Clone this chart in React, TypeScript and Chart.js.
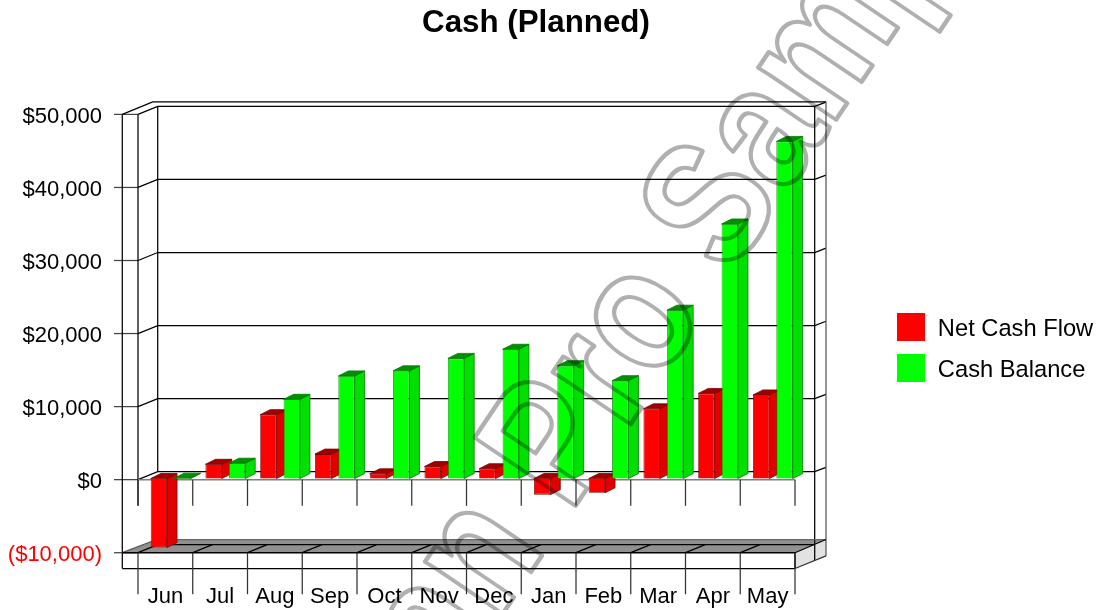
import React, { useEffect, useRef } from "react";
import { Chart, registerables } from "chart.js";

Chart.register(...registerables);

const chartTitle = "Cash (Planned)";
const watermark = "Plan Pro Sample";
const categories = ["Jun", "Jul", "Aug", "Sep", "Oct", "Nov", "Dec", "Jan", "Feb", "Mar", "Apr", "May"];
const netCashFlow = [-9300, 2100, 8900, 3500, 800, 1800, 1500, -2050, -1800, 9700, 11800, 11600];
const cashBalance = [200, 2250, 11000, 14200, 14900, 16600, 17850, 15600, 13550, 23200, 35000, 46300];
const FONT = "'Liberation Sans', Arial, sans-serif";
const sides = [
  { front: "#ff0000", side: "#e00000", top: "#a00000", edge: "#7a0000" },
  { front: "#00ff00", side: "#00e000", top: "#009000", edge: "#007a00" },
];

const money = (v: number) => {
  const s = "$" + Math.abs(v).toLocaleString("en-US");
  return v < 0 ? `(${s})` : s;
};

function line(ctx: CanvasRenderingContext2D, pts: number[][], color = "#000", w = 1.25) {
  ctx.beginPath();
  pts.forEach(([x, y], i) => (i ? ctx.lineTo(x, y) : ctx.moveTo(x, y)));
  ctx.strokeStyle = color;
  ctx.lineWidth = w;
  ctx.stroke();
}
function poly(ctx: CanvasRenderingContext2D, pts: number[][], fill: string) {
  ctx.beginPath();
  pts.forEach(([x, y], i) => (i ? ctx.lineTo(x, y) : ctx.moveTo(x, y)));
  ctx.closePath();
  ctx.fillStyle = fill;
  ctx.fill();
}

const frame3d = {
  id: "frame3d",
  afterLayout(chart: any) {
    const t = chart.titleBlock;
    t.left = 400;
    t.right = 672;
    const l = chart.legend;
    const w = l.width, h = l.height;
    l.left = 885;
    l.right = 885 + w;
    l.top = 302.5;
    l.bottom = 302.5 + h;
  },
  beforeDatasetsDraw(chart: any) {
    const { ctx, chartArea: a, scales } = chart;
    const ys = scales.y;
    const L = a.left, R = a.right;
    const step = (R - L) / categories.length;
    const dx = 19.7, dy = -8;
    const backR = R + dx, outR = 826, outL = 122.3;
    const y0 = ys.getPixelForValue(0);
    const yMin = a.bottom, yMax = a.top;
    const floorTop = yMin - 13.2;
    const floorMid = yMin + dy;
    const faceBot = yMin + 15.8;
    ctx.save();

    // floor and right side face
    poly(ctx, [[outL, yMin], [outL + 34.4, floorTop], [outR, floorTop], [R, yMin]], "#909090");
    poly(ctx, [[R, yMin], [outR, floorTop], [outR, faceBot - 12.6], [R, faceBot]], "#e2e2e2");

    // back wall and grid
    ys.ticks.forEach((t: any) => {
      const y = ys.getPixelForValue(t.value);
      line(ctx, [[114, y], [L, y]], "#444");
      if (t.value >= 0) {
        line(ctx, [[L, y], [L + dx, y + dy], [backR, y + dy], [outR, y + dy - 4.3]]);
      }
    });
    line(ctx, [[outL, yMax], [outL + 30.4, yMax - 12.6], [outR, yMax - 12.6]]);
    line(ctx, [[L + dx, yMax + dy], [L + dx, y0 + dy]]);
    line(ctx, [[L, yMax], [L, y0 + 26.2]]);
    line(ctx, [[outL, yMax], [outL, faceBot]]);
    line(ctx, [[backR, yMax + dy], [backR, faceBot - 8]]);
    line(ctx, [[outR, yMax - 12.6], [outR, faceBot - 12.6]], "#555");

    // zero plane
    line(ctx, [[L, y0], [R, y0]], "#808080", 1.5);

    // floor edges
    line(ctx, [[outL + 34.4, floorTop], [outR, floorTop]], "#666");
    line(ctx, [[outL, yMin], [outL + 34.4, floorTop]], "#555");
    line(ctx, [[L, yMin], [L + dx, floorMid], [backR, floorMid]]);
    line(ctx, [[outL, yMin], [R, yMin]], "#000", 1.5);
    line(ctx, [[outL, faceBot], [R, faceBot]]);
    line(ctx, [[R, yMin], [R, faceBot]], "#000", 1.5);
    line(ctx, [[R, yMin], [outR, floorTop]]);
    line(ctx, [[R, faceBot], [outR, faceBot - 12.6]], "#333");

    // category separators
    for (let i = 0; i <= categories.length; i++) {
      const x = L + i * step;
      line(ctx, [[x, y0], [x, y0 + 26.2]], "#333");
      line(ctx, [[x, yMin], [x, yMin + 41.5]], "#333");
      if (i > 0 && i < categories.length) line(ctx, [[x, yMin], [x + dx, floorMid]]);
    }

    // bars: depth faces first, then the library's own bar elements
    ctx.translate(5.2, 0);
    const bx = 10, by = -5;
    [0, 1].forEach((di) => {
      const meta = chart.getDatasetMeta(di);
      const c = sides[di];
      meta.data.forEach((el: any) => {
        const { x, y, base, width } = el.getProps(["x", "y", "base", "width"], true);
        const top = Math.min(y, base), bot = Math.max(y, base);
        const l = x - width / 2, r = x + width / 2;
        const side = [[r, top], [r + bx, top + by], [r + bx, bot + by], [r, bot]];
        const roof = [[l, top], [l + bx, top + by], [r + bx, top + by], [r, top]];
        poly(ctx, side, c.side);
        line(ctx, [...side, side[0]], c.edge, 0.8);
        poly(ctx, roof, c.top);
        line(ctx, [...roof, roof[0]], c.edge, 0.8);
      });
      meta.controller.draw();
    });
    ctx.restore();
    return false;
  },
  afterDraw(chart: any) {
    const { ctx, legend } = chart;
    ctx.save();
    sides.forEach((c, i) => {
      ctx.fillStyle = c.front;
      ctx.fillRect(897, legend.top + 10.5 + i * 41, 28, 28);
    });
    ctx.globalCompositeOperation = "multiply";
    ctx.translate(570, 514);
    ctx.rotate((-56 * Math.PI) / 180);
    ctx.font = `bold 177px ${FONT}`;
    ctx.textAlign = "left";
    ctx.textBaseline = "alphabetic";
    ctx.lineJoin = "round";
    ctx.strokeStyle = "#b0b0b0";
    ctx.lineWidth = 4.5;
    const pre = "Plan ";
    ctx.scale(0.83, 1);
    ctx.strokeText(watermark, -ctx.measureText(pre).width, 0);
    ctx.restore();
  },
};

export default function App() {
  const ref = useRef<HTMLCanvasElement>(null);
  useEffect(() => {
    document.body.style.margin = "0";
    const chart = new Chart(ref.current!, {
      type: "bar",
      data: {
        labels: categories,
        datasets: [
          { label: "Net Cash Flow", data: netCashFlow, backgroundColor: sides[0].front, borderColor: sides[0].edge, borderWidth: 0.8, base: 150 },
          { label: "Cash Balance", data: cashBalance, backgroundColor: sides[1].front, borderColor: sides[1].edge, borderWidth: 0.8, base: 150 },
        ],
      },
      options: {
        animation: false,
        responsive: false,
        events: [],
        layout: { autoPadding: false, padding: { left: 0, right: 310, top: 0, bottom: 0 } },
        datasets: { bar: { categoryPercentage: 0.855, barPercentage: 0.697 } },
        scales: {
          x: {
            offset: true,
            grid: { display: false },
            border: { display: false },
            afterFit: (s: any) => { s.height = 57.3; },
            ticks: { color: "#000", font: { family: FONT, size: 22 }, padding: 23, maxRotation: 0, autoSkip: false },
          },
          y: {
            min: -10000,
            max: 50000,
            grid: { display: false },
            border: { display: false },
            afterFit: (s: any) => { s.width = 138; },
            ticks: {
              stepSize: 10000,
              padding: 28,
              labelOffset: 2.5,
              font: { family: FONT, size: 22 },
              color: (c: any) => (c.tick.value < 0 ? "#ff0000" : "#000"),
              callback: (v: any) => money(Number(v)),
            },
          },
        },
        plugins: {
          tooltip: { enabled: false },
          title: {
            display: true,
            text: chartTitle,
            color: "#000",
            font: { family: FONT, size: 31.3, weight: "bold" },
            padding: { top: 5, bottom: 71.84 },
          },
          legend: {
            position: "chartArea",
            align: "start",
            labels: {
              boxWidth: 28,
              boxHeight: 28,
              padding: 13,
              color: "#000",
              font: { family: FONT, size: 23.7 },
              generateLabels: (c: any) =>
                Chart.defaults.plugins.legend.labels.generateLabels(c).map((i: any) => ({ ...i, lineWidth: 0, fillStyle: "transparent" })),
            },
          },
        },
      },
      plugins: [frame3d],
    } as any);
    return () => chart.destroy();
  }, []);
  return (
    <div style={{ width: 1105, height: 610 }}>
      <canvas ref={ref} width={1105} height={610} style={{ display: "block" }} />
    </div>
  );
}
